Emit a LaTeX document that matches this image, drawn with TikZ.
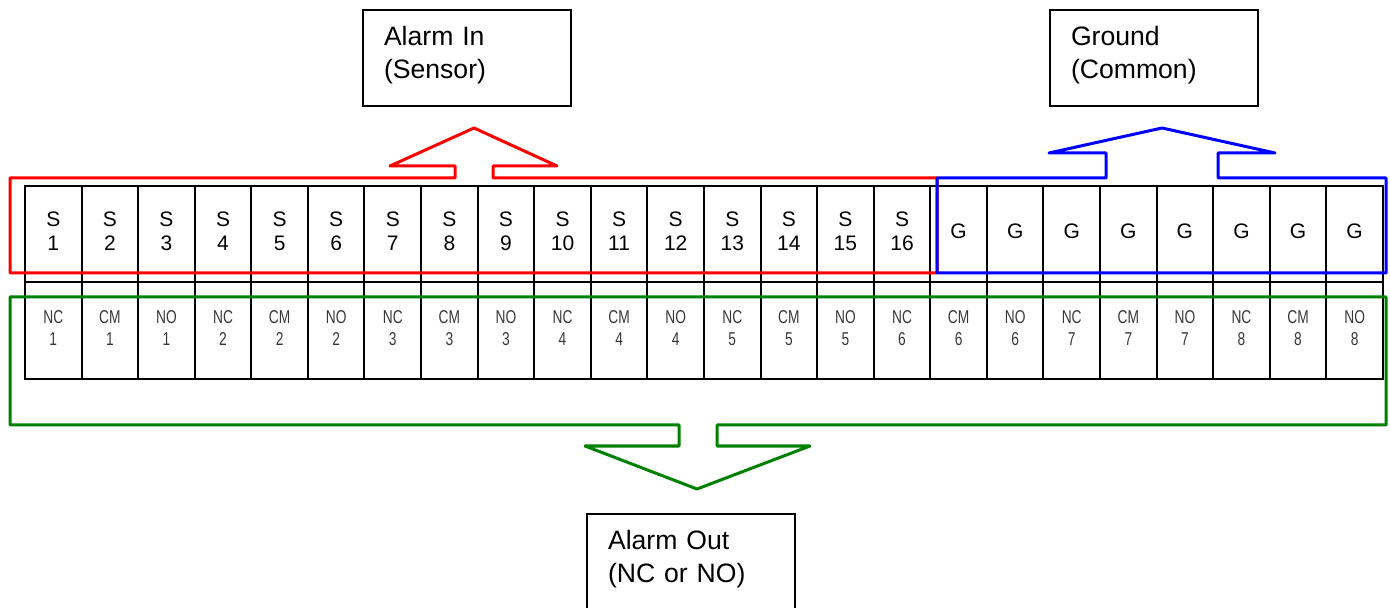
\documentclass[tikz,border=0pt]{standalone}
\usepackage{fontspec}
\setmainfont{Liberation Sans}
\newfontfamily\narrowfont[FakeStretch=0.74]{Liberation Sans}
\usepackage{xcolor}
\usepackage{tikz}
\definecolor{insred}{HTML}{FF0000}
\definecolor{gndblue}{HTML}{0000FF}
\definecolor{outgreen}{HTML}{008000}
\definecolor{relaygray}{HTML}{383838}
\newcommand{\lowstrut}{\rule[-6pt]{0pt}{6pt}}

\begin{document}
\begin{tikzpicture}[x=0.5pt, y=-0.5pt]
  \tikzset{
    cell/.style={rectangle, draw, line width=1pt, inner sep=0pt, minimum width=28.29pt},
    toplbl/.style={font=\fontsize{10.5}{12}\selectfont, align=center, inner sep=0pt},
    botlbl/.style={font=\narrowfont\fontsize{9.3}{11}\selectfont, text=relaygray,
      align=center, inner sep=0pt},
    tagbox/.style={rectangle, draw, line width=1pt, anchor=north west, minimum width=104pt,
      minimum height=48pt, text width=83pt, inner xsep=10.5pt, align=left,
      font=\fontsize{13.3}{16.5}\selectfont},
    group/.style={line width=1.5pt, line join=round},
  }
  \useasboundingbox (0,0) rectangle (1390,608);
  \clip (0,0) rectangle (1390,608);

  % terminal block: 16 sensor + 8 ground on top, 8 relays below
  \foreach \i in {0,...,23} {
    \pgfmathsetmacro{\cx}{25+56.58*(\i+0.5)}
    \pgfmathtruncatemacro{\n}{\i+1}
    \pgfmathtruncatemacro{\k}{div(\i,3)+1}
    \pgfmathtruncatemacro{\m}{mod(\i,3)}
    \node[cell, minimum height=48pt] (top\n) at (\cx,234) {};
    \node[cell, minimum height=48.5pt] (bot\n) at (\cx,330.5) {};
    \ifnum\n<17
      \node[toplbl] (tl\n) at (\cx,231) {S\\\n};
    \else
      \node[toplbl] (tl\n) at (\cx,231) {G};
    \fi
    \ifcase\m \def\kind{NC}\or \def\kind{CM}\or \def\kind{NO}\fi
    \node[botlbl] (bl\n) at (\cx,328) {\kind\\\k};
  }

  \node[tagbox] (alarmin) at (362,9) {Alarm In\\(Sensor)\lowstrut};
  \node[tagbox] (ground) at (1049,9) {Ground\\(Common)\lowstrut};
  \node[tagbox] (alarmout) at (586,513) {Alarm Out\\(NC or NO)\lowstrut};

  \draw[group, draw=insred] (10,178) -- (455,178) -- (455,166) -- (390,166) -- (474,128)
    -- (557,166) -- (493,166) -- (493,178) -- (937,178) -- (937,273) -- (10,273) -- cycle;
  \draw[group, draw=gndblue] (937,178) -- (1106,178) -- (1106,153) -- (1049,153) -- (1162,128)
    -- (1275,153) -- (1218,153) -- (1218,178) -- (1386,178) -- (1386,273) -- (937,273) -- cycle;
  \draw[group, draw=outgreen] (10,297) -- (1386,297) -- (1386,425) -- (717,425) -- (717,446)
    -- (810,446) -- (697,489) -- (585,446) -- (679,446) -- (679,425) -- (10,425) -- cycle;
\end{tikzpicture}
\end{document}
